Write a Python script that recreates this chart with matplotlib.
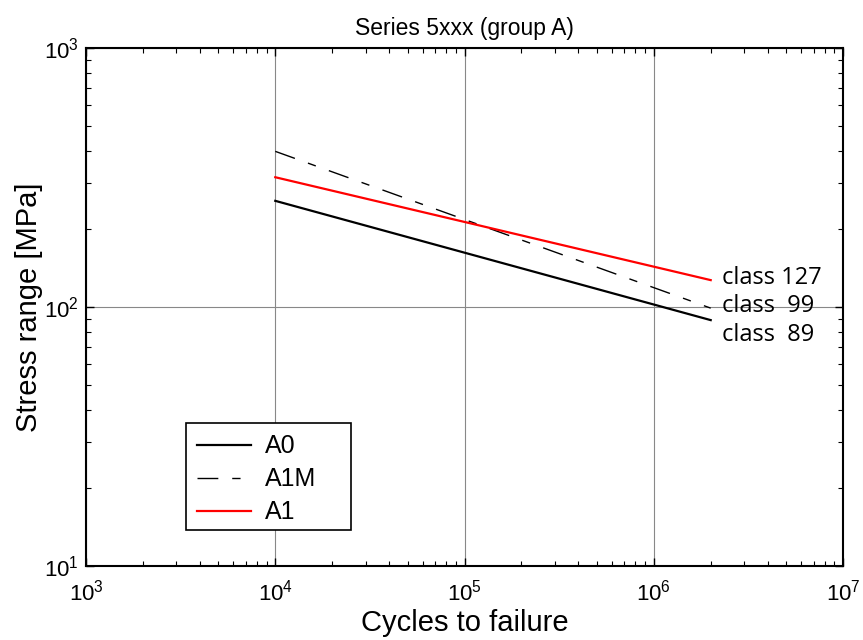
import matplotlib
matplotlib.use("Agg")
import matplotlib.pyplot as plt
from matplotlib.patches import Rectangle

plt.rcParams['font.family'] = ['Liberation Sans', 'DejaVu Sans']
plt.rcParams['mathtext.fontset'] = 'custom'
plt.rcParams['mathtext.rm'] = 'Liberation Sans'
plt.rcParams['mathtext.it'] = 'Liberation Sans:italic'

# Data
cycles = [1e4, 2e6]
a0 = [257, 89]
a1m = [399, 99]
a1 = [317, 127]
series_names = ["A0", "A1M", "A1"]
class_labels = ["class 127", "class  99", "class  89"]
class_y = [129, 101, 78]
class_x = 2.3e6

fig = plt.figure(figsize=(8.63, 6.4), dpi=100)
ax = fig.add_axes([0.0997, 0.1156, 0.8771, 0.8094])

ax.plot(cycles, a0, color='black', lw=1.6, label=series_names[0])
ax.plot(cycles, a1m, color='black', lw=1.0, dashes=(15, 10, 6, 10), label=series_names[1])
ax.plot(cycles, a1, color='red', lw=1.6, label=series_names[2])

ax.set_xscale('log')
ax.set_yscale('log')
ax.set_xlim(1e3, 1e7)
ax.set_ylim(1e1, 1e3)

ax.grid(True, which='major', color='#888888', lw=0.8)
ax.tick_params(which='both', direction='in', top=True, right=True, labelsize=16)
ax.tick_params(which='major', length=6, width=1)
ax.tick_params(which='minor', length=3.5, width=0.8)
ax.tick_params(axis='x', which='major', pad=10)
ax.tick_params(axis='y', which='major', pad=5)
for s in ax.spines.values():
    s.set_linewidth(1.5)

for lab, yv in zip(class_labels, class_y):
    ax.text(class_x, yv, lab, fontsize=17, family=['Open Sans', 'DejaVu Sans'], va='center', ha='left')

ax.set_title("Series 5xxx (group A)", fontsize=16.5, pad=9)
ax.set_xlabel("Cycles to failure", fontsize=21, labelpad=2)
ax.set_ylabel("Stress range [MPa]", fontsize=21, labelpad=1)

# legend frame drawn as a rectangle (wider than the entries, like the reference)
ax.add_patch(Rectangle((0.1321, 0.0695), 0.2180, 0.2066, transform=ax.transAxes,
                       facecolor='white', edgecolor='black', lw=1.2, zorder=4))
leg = ax.legend(loc='lower left', bbox_to_anchor=(0.1347, 0.0637), fontsize=18, frameon=False,
                handlelength=2.16, handletextpad=0.56,
                borderpad=0.35, labelspacing=0.36, borderaxespad=0)
leg.set_zorder(5)

fig.savefig("out.png", dpi=100)
